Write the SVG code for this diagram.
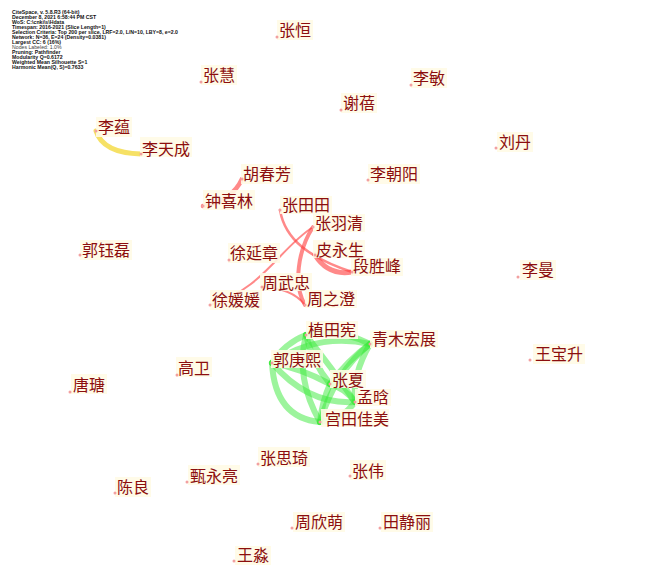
<svg xmlns="http://www.w3.org/2000/svg" width="654" height="567" viewBox="0 0 654 567">
<style>
.hdr{font-family:"Liberation Sans",Arial,sans-serif;font-size:5.2px;font-weight:bold;fill:#111}
.lbl{font-family:"Noto Sans CJK SC","Noto Sans",sans-serif;font-size:16px;fill:#8c0e0e}
.bg{fill:#fffbe6;opacity:0.9}
.dot{fill:#f2a0a0}
.red{fill:none;stroke:#ff3a3a;stroke-opacity:0.6;stroke-linecap:round}
.grn{fill:none;stroke:#3aea3a;stroke-opacity:0.5;stroke-width:6;stroke-linecap:round}
.yel{fill:none;stroke:#f5dc4a;stroke-opacity:0.85;stroke-width:5;stroke-linecap:round}
</style>
<rect width="654" height="567" fill="#ffffff"/>
<g id="header">
<text class="hdr" x="12" y="14">CiteSpace, v. 5.8.R3 (64-bit)</text>
<text class="hdr" x="12" y="19">December 8, 2021 6:58:44 PM CST</text>
<text class="hdr" x="12" y="24">WoS: C:\cnki\s\Hdata</text>
<text class="hdr" x="12" y="29">Timespan: 2016-2021 (Slice Length=1)</text>
<text class="hdr" x="12" y="34">Selection Criteria: Top 200 per slice, LRF=2.0, L/N=10, LBY=8, e=2.0</text>
<text class="hdr" x="12" y="39">Network: N=36, E=24 (Density=0.0381)</text>
<text class="hdr" x="12" y="44">Largest CC: 6 (16%)</text>
<text class="hdr" x="12" y="49" style="font-weight:normal;fill:#444">Nodes Labeled: 1.0%</text>
<text class="hdr" x="12" y="54">Pruning: Pathfinder</text>
<text class="hdr" x="12" y="59">Modularity Q=0.6172</text>
<text class="hdr" x="12" y="64">Weighted Mean Silhouette S=1</text>
<text class="hdr" x="12" y="69">Harmonic Mean(Q, S)=0.7633</text>
</g>
<g id="connectors">
<path class="yel" d="M96,131 Q103,153 141,154"/>
<path class="red" stroke-width="4.5" d="M242,179 Q232,201 203,206"/>
<path class="red" stroke-width="2.5" d="M280,210 C285,240 310,258 352,272"/>
<path class="red" stroke-width="5" d="M315,255 Q328,276 352,272"/>
<path class="red" stroke-width="4" d="M313,227 C298,250 293,285 305,305"/>
<path class="red" stroke-width="2" d="M313,227 C280,248 262,290 210,305"/>
<path class="red" stroke-width="2" d="M262,287 Q292,288 305,305"/>
<path class="grn" d="M306,335 Q338,328 370,344"/>
<path class="grn" d="M272,363 Q318,332 370,344"/>
<path class="grn" d="M272,363 Q285,343 306,335"/>
<path class="grn" d="M272,363 Q275,418 320,422"/>
<path class="grn" d="M272,363 Q308,405 355,402"/>
<path class="grn" d="M272,363 Q300,368 330,384"/>
<path class="grn" d="M306,335 Q295,378 320,422"/>
<path class="grn" d="M306,335 Q312,362 330,384"/>
<path class="grn" d="M306,335 Q332,368 355,402"/>
<path class="grn" d="M370,344 Q348,360 330,384"/>
<path class="grn" d="M370,344 Q352,375 355,402"/>
<path class="grn" d="M370,344 Q335,372 320,422"/>
<path class="grn" d="M330,384 Q345,388 355,402"/>
<path class="grn" d="M330,384 Q322,402 320,422"/>
<path class="grn" d="M355,402 Q342,420 320,422"/>
</g>
<g id="n-zhangheng"><rect class="bg" x="277" y="20" width="36" height="20"/><circle class="dot" cx="277" cy="37" r="1.5"/><text class="lbl" x="279" y="36">张恒</text></g>
<g id="n-zhanghui"><rect class="bg" x="201" y="65" width="36" height="20"/><circle class="dot" cx="201" cy="82" r="1.5"/><text class="lbl" x="203" y="81">张慧</text></g>
<g id="n-limin"><rect class="bg" x="411" y="68" width="36" height="20"/><circle class="dot" cx="411" cy="85" r="1.5"/><text class="lbl" x="413" y="84">李敏</text></g>
<g id="n-xiebei"><rect class="bg" x="341" y="93" width="36" height="20"/><circle class="dot" cx="341" cy="110" r="1.5"/><text class="lbl" x="343" y="109">谢蓓</text></g>
<g id="n-liudan"><rect class="bg" x="497" y="132" width="36" height="20"/><circle class="dot" cx="496" cy="148" r="1.5"/><text class="lbl" x="499" y="148">刘丹</text></g>
<g id="n-liyun"><rect class="bg" x="96" y="117" width="36" height="20"/><circle class="dot" cx="96" cy="131" r="1.5"/><text class="lbl" x="98" y="133">李蕴</text></g>
<g id="n-litiancheng"><rect class="bg" x="140" y="137" width="52" height="20"/><circle class="dot" cx="141" cy="154" r="1.5"/><text class="lbl" x="142" y="155">李天成</text></g>
<g id="n-huchunfang"><rect class="bg" x="241" y="164" width="52" height="20"/><circle class="dot" cx="242" cy="179" r="1.5"/><text class="lbl" x="243" y="180">胡春芳</text></g>
<g id="n-zhongxilin"><rect class="bg" x="203" y="190" width="52" height="20"/><circle class="dot" cx="203" cy="206" r="1.5"/><text class="lbl" x="205" y="207">钟喜林</text></g>
<g id="n-lichaoyang"><rect class="bg" x="368" y="164" width="52" height="20"/><circle class="dot" cx="368" cy="180" r="1.5"/><text class="lbl" x="370" y="180">李朝阳</text></g>
<g id="n-zhangtiantian"><rect class="bg" x="280" y="196" width="52" height="18"/><circle class="dot" cx="280" cy="210" r="1.5"/><text class="lbl" x="282" y="211">张田田</text></g>
<g id="n-zhangyuqing"><rect class="bg" x="313" y="214" width="52" height="18"/><circle class="dot" cx="313" cy="227" r="1.5"/><text class="lbl" x="315" y="229">张羽清</text></g>
<g id="n-xuyanzhang"><rect class="bg" x="228" y="243" width="52" height="20"/><circle class="dot" cx="229" cy="260" r="1.5"/><text class="lbl" x="230" y="259">徐延章</text></g>
<g id="n-piyongsheng"><rect class="bg" x="313" y="240" width="52" height="18"/><circle class="dot" cx="315" cy="255" r="1.5"/><text class="lbl" x="316" y="256">皮永生</text></g>
<g id="n-duanshengfeng"><rect class="bg" x="351" y="258" width="52" height="18"/><circle class="dot" cx="352" cy="272" r="1.5"/><text class="lbl" x="353" y="272">段胜峰</text></g>
<g id="n-zhouwuzhong"><rect class="bg" x="260" y="273" width="52" height="18"/><circle class="dot" cx="262" cy="287" r="1.5"/><text class="lbl" x="262" y="289">周武忠</text></g>
<g id="n-xuyuanyuan"><rect class="bg" x="210" y="290" width="52" height="20"/><circle class="dot" cx="210" cy="305" r="1.5"/><text class="lbl" x="212" y="306">徐媛媛</text></g>
<g id="n-zhouzhicheng"><rect class="bg" x="305" y="290" width="52" height="18"/><circle class="dot" cx="305" cy="305" r="1.5"/><text class="lbl" x="307" y="305">周之澄</text></g>
<g id="n-guoyulei"><rect class="bg" x="80" y="240" width="52" height="20"/><circle class="dot" cx="80" cy="255" r="1.5"/><text class="lbl" x="82" y="256">郭钰磊</text></g>
<g id="n-liman"><rect class="bg" x="520" y="260" width="36" height="20"/><circle class="dot" cx="518" cy="277" r="1.5"/><text class="lbl" x="522" y="276">李曼</text></g>
<g id="n-zhitianxian"><rect class="bg" x="306" y="321" width="52" height="18"/><circle class="dot" cx="306" cy="335" r="1.5"/><text class="lbl" x="308" y="336">植田宪</text></g>
<g id="n-qingmu"><rect class="bg" x="370" y="330" width="68" height="18"/><circle class="dot" cx="370" cy="344" r="1.5"/><text class="lbl" x="372" y="345">青木宏展</text></g>
<g id="n-guogengxi"><rect class="bg" x="271" y="350" width="52" height="18"/><circle class="dot" cx="272" cy="363" r="1.5"/><text class="lbl" x="273" y="366">郭庚熙</text></g>
<g id="n-zhangxia"><rect class="bg" x="330" y="370" width="36" height="18"/><circle class="dot" cx="330" cy="384" r="1.5"/><text class="lbl" x="332" y="386">张夏</text></g>
<g id="n-menghan"><rect class="bg" x="355" y="389" width="36" height="17"/><circle class="dot" cx="355" cy="402" r="1.5"/><text class="lbl" x="357" y="403">孟晗</text></g>
<g id="n-gongtian"><rect class="bg" x="321" y="409" width="68" height="18"/><circle class="dot" cx="320" cy="422" r="1.5"/><text class="lbl" x="325" y="425">宫田佳美</text></g>
<g id="n-wangbaosheng"><rect class="bg" x="533" y="344" width="52" height="20"/><circle class="dot" cx="530" cy="360" r="1.5"/><text class="lbl" x="535" y="360">王宝升</text></g>
<g id="n-tangtang"><rect class="bg" x="71" y="374" width="36" height="20"/><circle class="dot" cx="70" cy="392" r="1.5"/><text class="lbl" x="73" y="391">唐瑭</text></g>
<g id="n-gaowei"><rect class="bg" x="176" y="357" width="36" height="20"/><circle class="dot" cx="177" cy="375" r="1.5"/><text class="lbl" x="178" y="374">高卫</text></g>
<g id="n-zhangsiqi"><rect class="bg" x="258" y="447" width="52" height="20"/><circle class="dot" cx="258" cy="464" r="1.5"/><text class="lbl" x="260" y="464">张思琦</text></g>
<g id="n-zhangwei"><rect class="bg" x="350" y="460" width="36" height="20"/><circle class="dot" cx="350" cy="476" r="1.5"/><text class="lbl" x="352" y="477">张伟</text></g>
<g id="n-zhenyongliang"><rect class="bg" x="188" y="465" width="52" height="20"/><circle class="dot" cx="187" cy="482" r="1.5"/><text class="lbl" x="190" y="482">甄永亮</text></g>
<g id="n-chenliang"><rect class="bg" x="115" y="477" width="36" height="20"/><circle class="dot" cx="115" cy="493" r="1.5"/><text class="lbl" x="117" y="493">陈良</text></g>
<g id="n-zhouxinmeng"><rect class="bg" x="293" y="512" width="52" height="20"/><circle class="dot" cx="292" cy="528" r="1.5"/><text class="lbl" x="295" y="528">周欣萌</text></g>
<g id="n-tianjingli"><rect class="bg" x="381" y="512" width="52" height="20"/><circle class="dot" cx="380" cy="528" r="1.5"/><text class="lbl" x="383" y="528">田静丽</text></g>
<g id="n-wangmiao"><rect class="bg" x="235" y="546" width="36" height="19"/><circle class="dot" cx="234" cy="561" r="1.5"/><text class="lbl" x="237" y="561">王淼</text></g>
</svg>
